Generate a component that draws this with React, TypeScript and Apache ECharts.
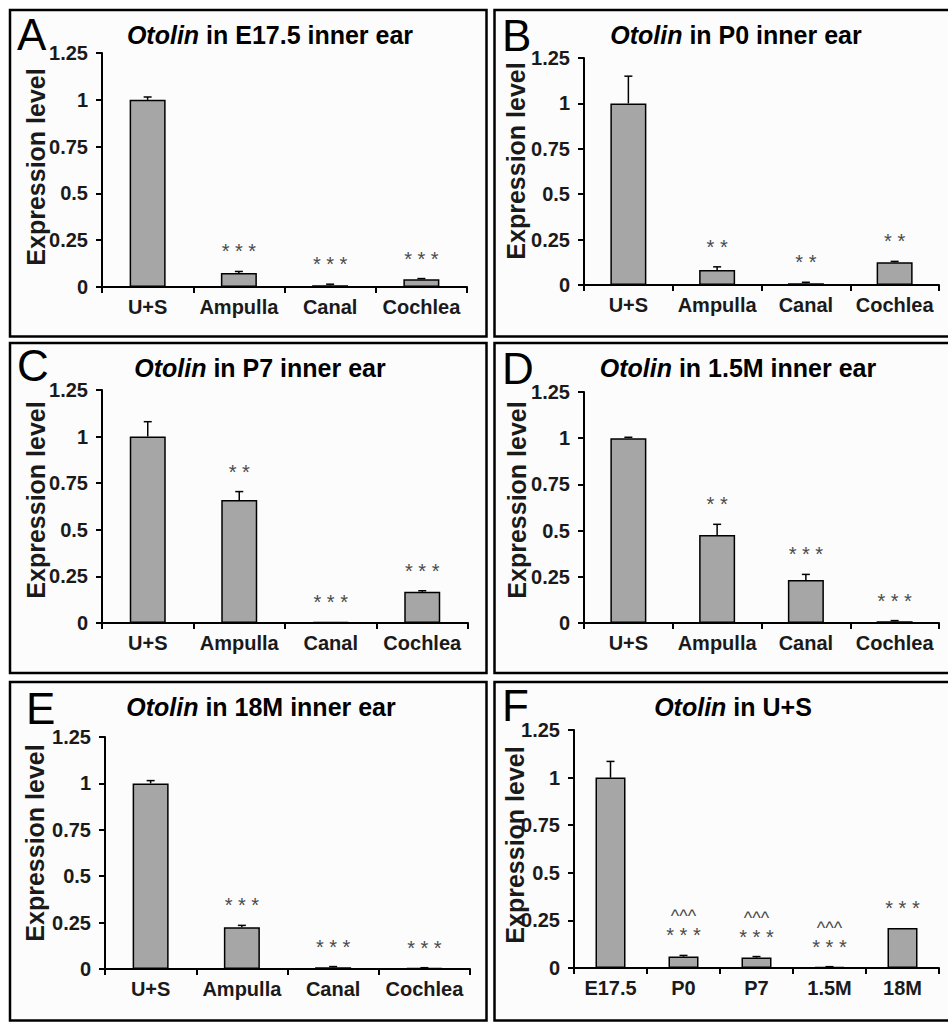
import React, { useEffect, useRef } from "react";
import * as echarts from "echarts";

// ---------- data ----------
const categoriesInnerEar = ["U+S", "Ampulla", "Canal", "Cochlea"];
const categoriesStage = ["E17.5", "P0", "P7", "1.5M", "18M"];
const yTicks = { min: 0, max: 1.25, interval: 0.25 };

const stageA = "E17.5 inner ear";
const valuesA = [1, 0.075, 0.01, 0.042];
const errorsA = [0.015, 0.008, 0.005, 0.003];
const sigA = ["", "***", "***", "***"];

const stageB = "P0 inner ear";
const valuesB = [1, 0.083, 0.01, 0.125];
const errorsB = [0.15, 0.017, 0.005, 0.005];
const sigB = ["", "**", "**", "**"];

const stageC = "P7 inner ear";
const valuesC = [1, 0.66, 0.005, 0.168];
const errorsC = [0.08, 0.045, 0, 0.005];
const sigC = ["", "**", "***", "***"];

const stageD = "1.5M inner ear";
const valuesD = [1, 0.476, 0.233, 0.01];
const errorsD = [0.005, 0.058, 0.03, 0.003];
const sigD = ["", "**", "***", "***"];

const stageE = "18M inner ear";
const valuesE = [1, 0.225, 0.01, 0.005];
const errorsE = [0.015, 0.01, 0.003, 0.002];
const sigE = ["", "***", "***", "***"];

const stageF = "U+S";
const valuesF = [1, 0.06, 0.055, 0.005, 0.21];
const errorsF = [0.085, 0.006, 0.005, 0.002, 0];
const sigF = ["", "***", "***", "***", "***"];
const sig2F = ["", "^^^", "^^^", "^^^", ""];

const gene = "Otolin";
const yName = "Expression level";

// ---------- layout ----------
const FONT = "'Liberation Sans', Arial, Helvetica, sans-serif";
const LEFT_X = 10, LEFT_W = 476.5;
const RIGHT_X = 494.5, RIGHT_W = 470;
const ROWS = [
  { y: 10, h: 326.5 },
  { y: 343, h: 330 },
  { y: 682, h: 338.5 },
];

const panels = [
  { letter: "A", stage: stageA, cats: categoriesInnerEar, values: valuesA, errors: errorsA, sig: sigA, sig2: null as string[] | null,
    box: [LEFT_X, ROWS[0].y, LEFT_W, ROWS[0].h], letterPos: [17, 34], titlePos: [270, 35], namePos: [36, 167],
    grid: { left: 102, top: 53, width: 365, height: 234 }, barWidth: 36 },
  { letter: "B", stage: stageB, cats: categoriesInnerEar, values: valuesB, errors: errorsB, sig: sigB, sig2: null,
    box: [RIGHT_X, ROWS[0].y, RIGHT_W, ROWS[0].h], letterPos: [502, 35], titlePos: [736, 35], namePos: [516, 161],
    grid: { left: 584, top: 58, width: 355, height: 227 }, barWidth: 36 },
  { letter: "C", stage: stageC, cats: categoriesInnerEar, values: valuesC, errors: errorsC, sig: sigC, sig2: null,
    box: [LEFT_X, ROWS[1].y, LEFT_W, ROWS[1].h], letterPos: [17, 365], titlePos: [260, 368], namePos: [36, 500],
    grid: { left: 102, top: 390, width: 366, height: 233 }, barWidth: 36 },
  { letter: "D", stage: stageD, cats: categoriesInnerEar, values: valuesD, errors: errorsD, sig: sigD, sig2: null,
    box: [RIGHT_X, ROWS[1].y, RIGHT_W, ROWS[1].h], letterPos: [502, 368], titlePos: [738, 368], namePos: [517, 500],
    grid: { left: 584, top: 392, width: 355, height: 231 }, barWidth: 36 },
  { letter: "E", stage: stageE, cats: categoriesInnerEar, values: valuesE, errors: errorsE, sig: sigE, sig2: null,
    box: [LEFT_X, ROWS[2].y, LEFT_W, ROWS[2].h], letterPos: [26, 708], titlePos: [261, 707], namePos: [35, 843],
    grid: { left: 105, top: 737, width: 365, height: 232 }, barWidth: 36 },
  { letter: "F", stage: stageF, cats: categoriesStage, values: valuesF, errors: errorsF, sig: sigF, sig2: sig2F,
    box: [RIGHT_X, ROWS[2].y, RIGHT_W, ROWS[2].h], letterPos: [502, 705], titlePos: [733, 707], namePos: [515, 845],
    grid: { left: 574, top: 730, width: 365, height: 238 }, barWidth: 30 },
];

const spaced = (s: string) => s.split("").join(" ");

function buildOption() {
  const grid: any[] = [];
  const xAxis: any[] = [];
  const yAxis: any[] = [];
  const series: any[] = [];
  const graphic: any[] = [];

  panels.forEach((p, i) => {
    graphic.push({
      type: "rect", z: -10,
      shape: { x: p.box[0], y: p.box[1], width: p.box[2], height: p.box[3] },
      style: { fill: "#fcfcfc", stroke: "#000", lineWidth: 2.5 },
    });
    graphic.push({
      type: "text", z: 10,
      style: { text: p.letter, x: p.letterPos[0], y: p.letterPos[1], align: "left", verticalAlign: "middle",
        fontSize: 44, lineHeight: 24, fontFamily: FONT, fill: "#000" },
    });
    graphic.push({
      type: "text", z: 10,
      style: {
        text: "{i|" + gene + "} in " + p.stage,
        x: p.titlePos[0], y: p.titlePos[1], align: "center", verticalAlign: "middle",
        fontSize: 25, fontWeight: "bold", fontFamily: FONT, fill: "#000",
        rich: { i: { fontSize: 25, fontWeight: "bold", fontStyle: "italic", fontFamily: FONT, fill: "#000" } },
      },
    });
    graphic.push({
      type: "text", z: 10, x: p.namePos[0], y: p.namePos[1], rotation: Math.PI / 2,
      style: { text: yName, align: "center", verticalAlign: "middle", fontSize: 25, lineHeight: 24,
        fontWeight: "bold", fontFamily: FONT, fill: "#1a1a1a" },
    });

    grid.push({ ...p.grid, containLabel: false });
    xAxis.push({
      type: "category", gridIndex: i, data: p.cats,
      axisLine: { show: true, lineStyle: { color: "#000", width: 2 } },
      axisTick: { show: true, alignWithLabel: false, length: 6, lineStyle: { color: "#000", width: 2 } },
      axisLabel: { color: "#1a1a1a", fontSize: 20, fontWeight: "bold", fontFamily: FONT, margin: 10, interval: 0 },
      splitLine: { show: false },
    });
    yAxis.push({
      type: "value", gridIndex: i, min: yTicks.min, max: yTicks.max, interval: yTicks.interval,
      axisLine: { show: true, lineStyle: { color: "#000", width: 2 } },
      axisTick: { show: true, length: 6, lineStyle: { color: "#000", width: 2 } },
      axisLabel: { color: "#1a1a1a", fontSize: 20, fontWeight: "bold", fontFamily: FONT, margin: 14 },
      splitLine: { show: false },
    });
    series.push({
      type: "bar", xAxisIndex: i, yAxisIndex: i, data: p.values, barWidth: p.barWidth,
      itemStyle: { color: "#a6a6a6", borderColor: "#000", borderWidth: 1.5 },
      silent: true,
    });
    const sig = p.sig, sig2 = p.sig2;
    series.push({
      type: "custom", xAxisIndex: i, yAxisIndex: i, silent: true, z: 5,
      data: p.values.map((v, k) => [k, v, p.errors[k]]),
      encode: { x: 0, y: 1 },
      renderItem: (params: any, api: any) => {
        const k = api.value(0), v = api.value(1), e = api.value(2);
        const base = api.coord([k, v]);
        const top = api.coord([k, v + e]);
        const children: any[] = [];
        if (e > 0) {
          children.push({ type: "line", shape: { x1: base[0], y1: base[1], x2: top[0], y2: top[1] },
            style: { stroke: "#000", lineWidth: 1.5 } });
          children.push({ type: "line", shape: { x1: top[0] - 4, y1: top[1], x2: top[0] + 4, y2: top[1] },
            style: { stroke: "#000", lineWidth: 1.5 } });
        }
        const idx = params.dataIndex;
        if (sig[idx]) {
          children.push({ type: "text", style: { text: spaced(sig[idx]), x: top[0], y: top[1] - 20,
            align: "center", verticalAlign: "middle", fontSize: 20, fontFamily: FONT, fill: "#4a4a4a" } });
        }
        if (sig2 && sig2[idx]) {
          children.push({ type: "text", style: { text: sig2[idx], x: top[0], y: top[1] - 39,
            align: "center", verticalAlign: "middle", fontSize: 18, fontFamily: FONT, fill: "#4a4a4a" } });
        }
        return { type: "group", children };
      },
    });
  });

  return { animation: false, backgroundColor: "#ffffff", grid, xAxis, yAxis, series, graphic };
}

export default function App() {
  const ref = useRef<HTMLDivElement>(null);
  useEffect(() => {
    if (!ref.current) return;
    const chart = echarts.init(ref.current, undefined, { renderer: "svg" });
    chart.setOption(buildOption() as any);
    return () => chart.dispose();
  }, []);
  return <div ref={ref} style={{ position: "absolute", left: 0, top: 0, width: 948, height: 1022 }} />;
}
